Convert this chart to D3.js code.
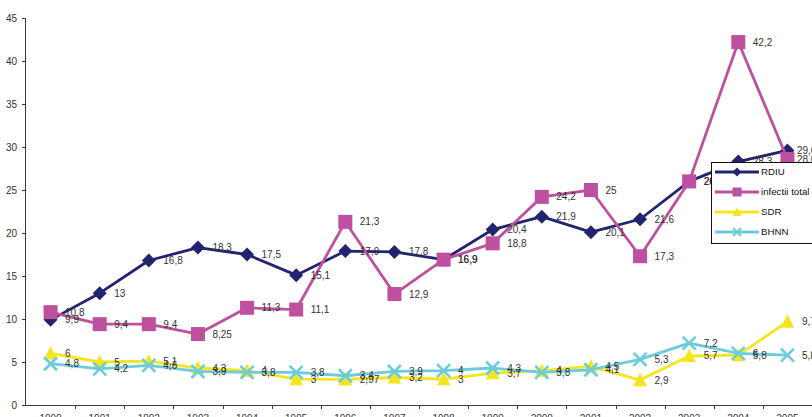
<!DOCTYPE html>
<html>
<head>
<meta charset="utf-8">
<script src="https://cdn.jsdelivr.net/npm/d3@7"></script>
<style>
  html, body { margin: 0; padding: 0; background: #fff; }
  svg { display: block; font-family: Arial, "Liberation Sans", sans-serif; }
</style>
</head>
<body>
<svg id="chart" width="812" height="417"></svg>
<script>
// Years on the category axis
const years = ["1990","1991","1992","1993","1994","1995","1996","1997",
               "1998","1999","2000","2001","2002","2003","2004","2005"];

// Series values (per year)
const rdiu      = [9.9, 13, 16.8, 18.3, 17.5, 15.1, 17.9, 17.8, 16.9, 20.4, 21.9, 20.1, 21.6, 26, 28.3, 29.6];
const infectii  = [10.8, 9.4, 9.4, 8.25, 11.3, 11.1, 21.3, 12.9, 16.9, 18.8, 24.2, 25, 17.3, 26, 42.2, 28.6];
const sdr       = [6, 5, 5.1, 4.3, 4, 3, 2.97, 3.2, 3, 3.7, 4, 4.5, 2.9, 5.7, 5.8, 9.7];
const bhnn      = [4.8, 4.2, 4.6, 3.9, 3.8, 3.8, 3.4, 3.9, 4, 4.3, 3.8, 4.1, 5.3, 7.2, 6, 5.8];

// Value axis ticks
const yTicks = [0, 5, 10, 15, 20, 25, 30, 35, 40, 45];

const seriesNames = ["RDIU", "infectii total", "SDR", "BHNN"];

const series = [
  { name: seriesNames[0], values: rdiu,     color: "#232470", marker: "diamond" },
  { name: seriesNames[1], values: infectii, color: "#BE509F", marker: "square" },
  { name: seriesNames[2], values: sdr,      color: "#F4E61C", marker: "triangle" },
  { name: seriesNames[3], values: bhnn,     color: "#6CCCDD", marker: "cross" }
];

const svg = d3.select("#chart");
const plotL = 26, plotR = 812, plotT = 18, plotB = 405;

const x = d3.scaleBand().domain(years).range([plotL, plotR]).padding(0);
const y = d3.scaleLinear().domain([0, 45]).range([plotB, plotT]);
const cx = yr => x(yr) + x.bandwidth() / 2;

const fmt = v => String(v).replace(".", ",");

// Marker drawing
function drawMarker(g, type, px, py, color, s) {
  if (type === "diamond") {
    g.append("path")
      .attr("d", `M${px},${py - s}L${px + s},${py}L${px},${py + s}L${px - s},${py}Z`)
      .attr("fill", color);
  } else if (type === "square") {
    g.append("rect")
      .attr("x", px - s).attr("y", py - s)
      .attr("width", 2 * s).attr("height", 2 * s)
      .attr("fill", color);
  } else if (type === "triangle") {
    g.append("path")
      .attr("d", `M${px},${py - s}L${px + s * 0.95},${py + s * 0.85}L${px - s * 0.95},${py + s * 0.85}Z`)
      .attr("fill", color);
  } else if (type === "cross") {
    g.append("path")
      .attr("d", `M${px - s},${py - s}L${px + s},${py + s}M${px + s},${py - s}L${px - s},${py + s}`)
      .attr("stroke", color).attr("stroke-width", s > 5 ? 2.6 : 2).attr("fill", "none");
  }
}

// Axes
const axisColor = "#3a3a3a";
const yAxis = d3.axisLeft(y).tickValues(yTicks).tickSize(4).tickPadding(5).tickFormat(d3.format("d"));
const yG = svg.append("g").attr("transform", `translate(${plotL},0)`).call(yAxis);
yG.select(".domain").attr("stroke", axisColor).attr("d", `M-0.5,${plotT}V${plotB}`);
yG.selectAll(".tick line").attr("stroke", axisColor);
yG.selectAll(".tick text").attr("fill", "#333").style("font-size", "10px")
  .style("font-family", "Arial, 'Liberation Sans', sans-serif");

// Category axis: ticks sit on the band boundaries
const xG = svg.append("g");
xG.append("line").attr("x1", plotL).attr("x2", plotR).attr("y1", plotB + 0.5).attr("y2", plotB + 0.5)
  .attr("stroke", axisColor).attr("stroke-width", 1.2);
years.forEach(yr => {
  const bx = Math.round(x(yr) + x.bandwidth()) + 0.5;
  xG.append("line").attr("x1", bx).attr("x2", bx).attr("y1", plotB).attr("y2", plotB + 4)
    .attr("stroke", axisColor);
  xG.append("text").attr("x", cx(yr)).attr("y", plotB + 17)
    .attr("text-anchor", "middle").attr("fill", "#333").style("font-size", "10px")
    .text(yr);
});

// Lines and markers
const line = d3.line().x((d, i) => cx(years[i])).y(d => y(d));
const sizes = { diamond: 7, square: 7, triangle: 7.2, cross: 6.5 };
series.forEach(s => {
  const g = svg.append("g");
  g.append("path").datum(s.values).attr("d", line)
    .attr("fill", "none").attr("stroke", s.color).attr("stroke-width", 2.8)
    .attr("stroke-linejoin", "round");
  s.values.forEach((v, i) => drawMarker(g, s.marker, cx(years[i]), y(v), s.color, sizes[s.marker]));
});

// Value labels
const lbl = svg.append("g").style("font-size", "10px").attr("fill", "#333");
series.forEach((s, si) => {
  s.values.forEach((v, i) => {
    let dx = 14.5;
    if (i === years.length - 1 && si < 2) dx = 9.5;
    lbl.append("text").attr("x", cx(years[i]) + dx).attr("y", y(v)).attr("dy", "0.35em")
      .text(fmt(v));
  });
});

// Legend
const lg = svg.append("g");
lg.append("rect").attr("x", 711.5).attr("y", 162.5).attr("width", 110).attr("height", 81)
  .attr("fill", "#fff").attr("stroke", "#111").attr("stroke-width", 1);
series.forEach((s, i) => {
  const ly = 172 + i * 20;
  lg.append("line").attr("x1", 715).attr("x2", 759).attr("y1", ly).attr("y2", ly)
    .attr("stroke", s.color).attr("stroke-width", 2.8);
  const ls = { diamond: 4.5, square: 4.5, triangle: 4.8, cross: 4 }[s.marker];
  drawMarker(lg, s.marker, 737, ly, s.color, ls);
  lg.append("text").attr("x", 761).attr("y", ly).attr("dy", "0.36em")
    .style("font-size", "9.7px").attr("fill", "#111").text(s.name);
});
</script>
</body>
</html>
